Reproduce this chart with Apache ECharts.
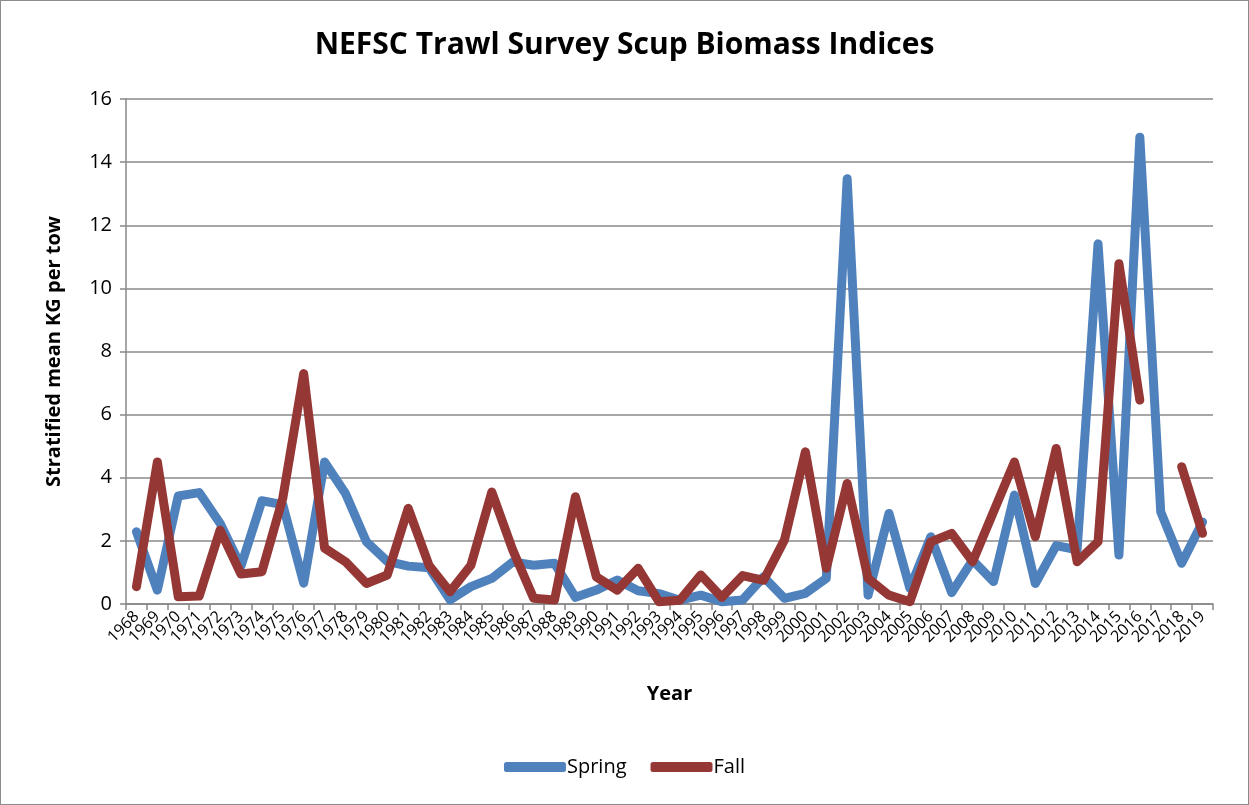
<!DOCTYPE html>
<html>
<head>
<meta charset="utf-8">
<script src="https://cdn.jsdelivr.net/npm/echarts@6/dist/echarts.min.js"></script>
<style>
html,body{margin:0;padding:0;background:#fff;}
#wrap{position:absolute;left:0;top:0;width:1247px;height:803px;border:1px solid #8c8c8c;}
#chart{width:1247px;height:803px;}
</style>
</head>
<body>
<div id="wrap"><div id="chart"></div></div>
<script>
const years = [1968,1969,1970,1971,1972,1973,1974,1975,1976,1977,1978,1979,1980,1981,1982,1983,1984,1985,1986,1987,1988,1989,1990,1991,1992,1993,1994,1995,1996,1997,1998,1999,2000,2001,2002,2003,2004,2005,2006,2007,2008,2009,2010,2011,2012,2013,2014,2015,2016,2017,2018,2019].map(String);
const spring = [2.29,0.44,3.42,3.53,2.56,1.2,3.27,3.15,0.66,4.5,3.5,1.97,1.35,1.2,1.15,0.13,0.55,0.81,1.33,1.23,1.29,0.21,0.44,0.76,0.42,0.33,0.12,0.28,0.07,0.13,0.86,0.18,0.34,0.81,13.47,0.28,2.87,0.5,2.13,0.36,1.39,0.71,3.45,0.65,1.85,1.72,11.41,1.55,14.79,2.92,1.29,2.6];
const fall = [0.55,4.5,0.23,0.25,2.34,0.95,1.02,3.35,7.3,1.77,1.34,0.65,0.92,3.03,1.22,0.39,1.23,3.55,1.71,0.18,0.13,3.4,0.86,0.44,1.13,0.07,0.12,0.92,0.21,0.9,0.75,2.03,4.82,1.13,3.82,0.81,0.28,0.07,1.97,2.24,1.34,2.92,4.5,2.13,4.93,1.34,1.97,10.78,6.46,null,4.35,2.24];
const seriesNames = ['Spring','Fall'];
const colors = ['#4F81BD','#953735'];

const chart = echarts.init(document.getElementById('chart'), null, {renderer:'canvas'});
const FF = '"Open Sans", "Liberation Sans", sans-serif';
chart.setOption({
  animation:false,
  backgroundColor:'#fff',
  title:{text:'NEFSC Trawl Survey Scup Biomass Indices',left:'center',top:24,
    textStyle:{fontFamily:FF,fontWeight:'bold',fontSize:30,color:'#000'}},
  grid:{left:125,right:35,top:98,bottom:200,containLabel:false},
  legend:{bottom:22,left:'center',itemWidth:62,itemHeight:10,itemGap:24,icon:'roundRect',
    textStyle:{fontFamily:FF,fontSize:20,color:'#000',padding:[0,0,0,-4]},data:seriesNames},
  xAxis:{type:'category',data:years,boundaryGap:true,
    name:'Year',nameLocation:'middle',nameGap:80,
    nameTextStyle:{fontFamily:FF,fontWeight:'bold',fontSize:20,color:'#000'},
    axisLine:{lineStyle:{color:'#888',width:1.5}},
    axisTick:{show:true,interval:0,length:6,lineStyle:{color:'#888',width:1.5}},
    axisLabel:{interval:0,rotate:45,fontFamily:FF,fontSize:16,color:'#000',margin:10}},
  yAxis:{type:'value',min:0,max:16,interval:2,
    name:'Stratified mean KG per tow',nameLocation:'middle',nameGap:62,
    nameTextStyle:{fontFamily:FF,fontWeight:'bold',fontSize:20,color:'#000'},
    axisLine:{show:true,lineStyle:{color:'#888',width:1.5}},
    axisTick:{show:true,length:6,lineStyle:{color:'#888',width:1.5}},
    axisLabel:{fontFamily:FF,fontSize:20,color:'#000',margin:14},
    splitLine:{lineStyle:{color:'#8a8a8a',width:1.5}}},
  series:[
    {name:seriesNames[0],type:'line',data:spring,showSymbol:false,symbol:'none',
      itemStyle:{color:colors[0]},
      lineStyle:{color:colors[0],width:9,cap:'round',join:'round'},z:2},
    {name:seriesNames[1],type:'line',data:fall,showSymbol:false,symbol:'none',connectNulls:false,
      itemStyle:{color:colors[1]},
      lineStyle:{color:colors[1],width:9,cap:'round',join:'round'},z:3}
  ]
});
</script>
</body>
</html>
